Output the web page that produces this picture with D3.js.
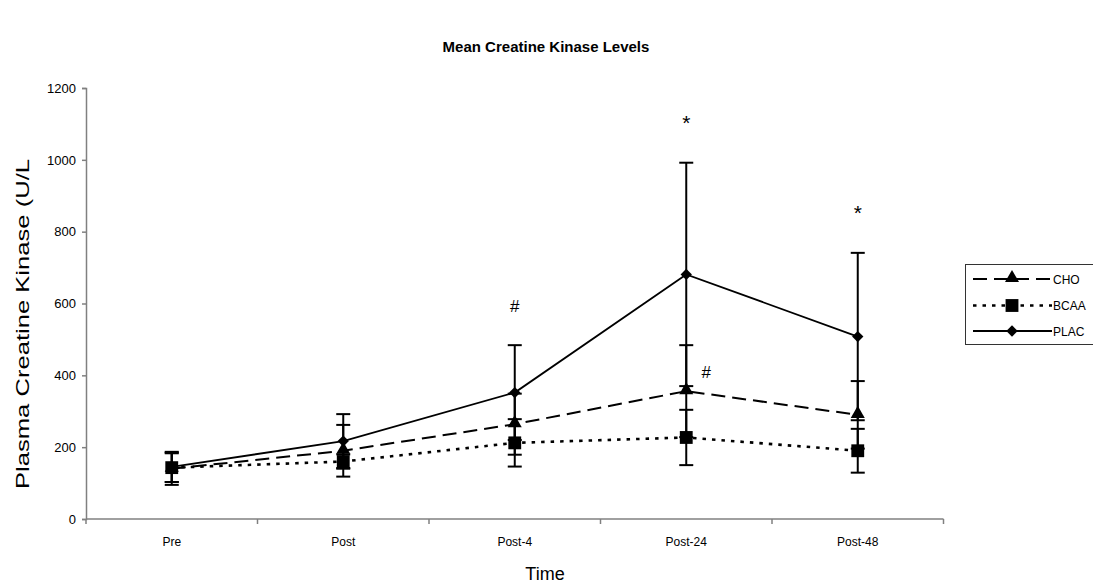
<!DOCTYPE html>
<html>
<head>
<meta charset="utf-8">
<script src="https://cdn.jsdelivr.net/npm/d3@7"></script>
<style>
  html, body { margin: 0; padding: 0; background: #fff; }
  svg { display: block; }
  text { font-family: "Liberation Sans", Arial, sans-serif; }
</style>
</head>
<body>
<svg id="chart" width="1093" height="588"></svg>
<script>
// ---- data ----
const categories = ["Pre", "Post", "Post-4", "Post-24", "Post-48"];
const choMean  = [140, 190, 264, 356, 290];
const choErr   = [45, 72, 85, 128, 94];
const bcaaMean = [143, 160, 212, 227, 190];
const bcaaErr  = [40, 20, 66, 77, 61];
const placMean = [145, 217, 352, 681, 508];
const placErr  = [42, 75, 132, 311, 233];
const yTicks = [0, 200, 400, 600, 800, 1000, 1200];
const seriesNames = ["CHO", "BCAA", "PLAC"];
const annotations = [
  { cat: "Post-4",  series: "PLAC", label: "#", anchor: "top" },
  { cat: "Post-24", series: "PLAC", label: "*", anchor: "top" },
  { cat: "Post-24", series: "CHO",  label: "#", anchor: "point" },
  { cat: "Post-48", series: "PLAC", label: "*", anchor: "top" }
];
const titleText = "Mean Creatine Kinase Levels";
const xTitle = "Time";
const yTitle = "Plasma Creatine Kinase (U/L";

// ---- build ----
const series = [
  { name: seriesNames[0], mean: choMean,  err: choErr,  dash: "14,7", width: 2,   symbol: "triangle" },
  { name: seriesNames[1], mean: bcaaMean, err: bcaaErr, dash: "3.5,6", width: 2.6, symbol: "square" },
  { name: seriesNames[2], mean: placMean, err: placErr, dash: null,   width: 1.8, symbol: "diamond" }
];

const svg = d3.select("#chart");
const plot = { left: 86, right: 943.5, top: 88, bottom: 519 };

const x = d3.scaleBand().domain(categories).range([plot.left, plot.right]).paddingInner(0).paddingOuter(0);
const y = d3.scaleLinear().domain([0, 1200]).range([plot.bottom, plot.top]);
const cx = c => x(c) + x.bandwidth() / 2;

function symbolPath(kind) {
  if (kind === "triangle") return d3.symbol().type(d3.symbolTriangle).size(85)();
  if (kind === "square") return d3.symbol().type(d3.symbolSquare).size(165)();
  return d3.symbol().type(d3.symbolSquare).size(64)();
}
function symbolTransform(kind, px, py) {
  if (kind === "triangle") return `translate(${px},${py - 1})`;
  if (kind === "diamond") return `translate(${px},${py}) rotate(45)`;
  return `translate(${px},${py})`;
}

// title
svg.append("text").attr("x", 546).attr("y", 52).attr("text-anchor", "middle")
  .attr("font-size", 15).attr("font-weight", "bold").text(titleText);

// y axis
const yAxis = d3.axisLeft(y).tickValues(yTicks).tickSize(4).tickPadding(6).tickFormat(d3.format("d"));
const gy = svg.append("g").attr("transform", `translate(${plot.left},0)`).call(yAxis);
gy.select(".domain").attr("stroke", "#808080").attr("stroke-width", 1.5);
gy.selectAll(".tick line").attr("stroke", "#808080").attr("stroke-width", 1.5);
gy.selectAll(".tick text").attr("font-size", 13).attr("font-family", "Liberation Sans, Arial, sans-serif").attr("fill", "#000");

// x axis: labels at category centres, ticks at category boundaries
const xAxisG = svg.append("g").attr("transform", `translate(0,${plot.bottom})`);
xAxisG.call(d3.axisBottom(x).tickSize(0).tickPadding(18));
xAxisG.select(".domain").attr("stroke", "#808080").attr("stroke-width", 1.5)
  .attr("d", `M${plot.left},0H${plot.right}`);
xAxisG.selectAll(".tick text").attr("font-size", 12).attr("font-family", "Liberation Sans, Arial, sans-serif").attr("fill", "#000");
const boundaries = categories.map(c => x(c)).concat([x(categories[categories.length - 1]) + x.bandwidth()]);
xAxisG.selectAll("line.bt").data(boundaries).enter().append("line").attr("class", "bt")
  .attr("x1", d => d).attr("x2", d => d).attr("y1", 0).attr("y2", 5)
  .attr("stroke", "#808080").attr("stroke-width", 1.5);

// axis titles
svg.append("text").attr("x", 545).attr("y", 580).attr("text-anchor", "middle")
  .attr("font-size", 18).text(xTitle);
svg.append("text").attr("transform", `translate(29,${324}) rotate(-90)`).attr("text-anchor", "middle")
  .attr("font-size", 19).attr("textLength", 330).attr("lengthAdjust", "spacingAndGlyphs").text(yTitle);

// lines
const line = d3.line().x((d, i) => cx(categories[i])).y(d => y(d));
series.forEach(s => {
  svg.append("path").datum(s.mean).attr("d", line).attr("fill", "none")
    .attr("stroke", "#000").attr("stroke-width", s.width)
    .attr("stroke-dasharray", s.dash);
});

// error bars
series.forEach(s => {
  const g = svg.append("g");
  s.mean.forEach((m, i) => {
    const px = cx(categories[i]);
    const lo = y(m - s.err[i]), hi = y(m + s.err[i]);
    g.append("line").attr("x1", px).attr("x2", px).attr("y1", lo).attr("y2", hi)
      .attr("stroke", "#000").attr("stroke-width", 2);
    [lo, hi].forEach(v => g.append("line").attr("x1", px - 7).attr("x2", px + 7).attr("y1", v).attr("y2", v)
      .attr("stroke", "#000").attr("stroke-width", 2));
  });
});

// markers
series.forEach(s => {
  svg.append("g").selectAll("path").data(s.mean).enter().append("path")
    .attr("d", symbolPath(s.symbol))
    .attr("transform", (d, i) => symbolTransform(s.symbol, cx(categories[i]), y(d)))
    .attr("fill", "#000");
});

// annotations
annotations.forEach(a => {
  const s = series.find(t => t.name === a.series);
  const i = categories.indexOf(a.cat);
  let px = cx(a.cat), py;
  if (a.anchor === "top") { py = y(s.mean[i] + s.err[i]) - 33; }
  else { px += 20; py = y(s.mean[i]) - 13; }
  svg.append("text").attr("x", px).attr("y", py).attr("text-anchor", "middle")
    .attr("font-family", "Liberation Serif, Times New Roman, serif")
    .attr("font-size", a.label === "*" ? 21 : 17).text(a.label);
});

// legend
const lg = svg.append("g");
lg.append("rect").attr("x", 965.5).attr("y", 264.5).attr("width", 140).attr("height", 80)
  .attr("fill", "#fff").attr("stroke", "#333").attr("stroke-width", 1);
series.forEach((s, k) => {
  const ly = [279, 305.5, 331][k];
  lg.append("line").attr("x1", 973).attr("x2", 1052).attr("y1", ly).attr("y2", ly)
    .attr("stroke", "#000").attr("stroke-width", s.width).attr("stroke-dasharray", s.dash);
  lg.append("path").attr("d", symbolPath(s.symbol))
    .attr("transform", symbolTransform(s.symbol, 1012, ly))
    .attr("fill", "#000");
  lg.append("text").attr("x", 1053).attr("y", ly + 4.5).attr("font-size", 12).text(s.name);
});
</script>
</body>
</html>
